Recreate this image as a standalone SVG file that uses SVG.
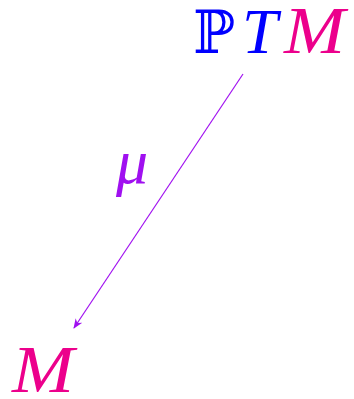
<svg xmlns="http://www.w3.org/2000/svg" width="354" height="399" viewBox="0 0 354 399">
<style>
.t{font-family:"Liberation Serif","DejaVu Serif",serif;font-style:italic;font-size:64px}
.m{font-size:67px}
.bb{font-family:"DejaVu Serif","DejaVu Sans",serif;font-size:60px}
.edge{stroke:#A010F0;stroke-width:1.2;fill:none}
</style>
<defs>
<marker id="ah" markerWidth="10" markerHeight="10" refX="9" refY="5" orient="auto" markerUnits="userSpaceOnUse">
<path d="M0,1 L10,5 L0,9 L3,5 Z" fill="#A010F0"/>
</marker>
</defs>
<rect width="354" height="399" fill="#fff"/>
<g id="connectors">
<line class="edge" x1="243" y1="74" x2="74" y2="328" marker-end="url(#ah)"/>
<text x="116" y="183" class="t" fill="#A010F0">μ</text>
</g>
<g id="PTM">
<text x="193" y="53" class="bb" fill="#0000FF" textLength="42" lengthAdjust="spacingAndGlyphs">ℙ</text>
<text x="242" y="53" class="t" fill="#0000FF">T</text>
<text x="284" y="53" class="t m" fill="#EC008C" textLength="61" lengthAdjust="spacingAndGlyphs">M</text>
</g>
<g id="M">
<text x="12" y="392" class="t m" fill="#EC008C" textLength="62" lengthAdjust="spacingAndGlyphs">M</text>
</g>
</svg>
